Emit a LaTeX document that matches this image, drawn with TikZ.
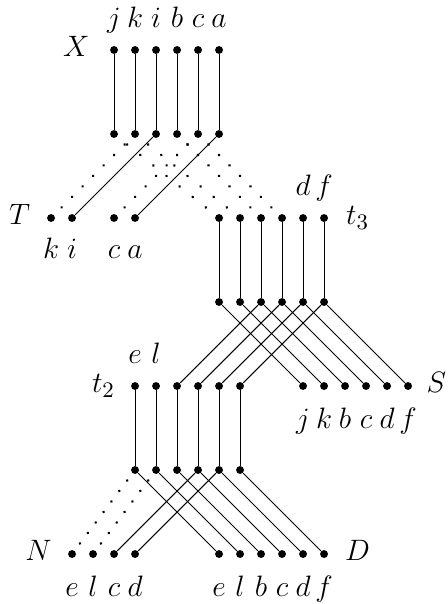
\documentclass[tikz,border=0pt]{standalone}
\usepackage{amsmath}
\usetikzlibrary{decorations.markings}

\begin{document}
\begin{tikzpicture}[x=.3cm,y=-.3cm,font=\fontsize{12.5}{15}\selectfont,
 pt/.style={circle,fill=black,inner sep=0pt,minimum size=3.2pt},
 str/.style={line width=.4pt},
 ghost/.style={decoration={markings,mark=between positions .125 and .9 step .125 with {\fill (0,0) circle (.6pt);}},decorate},
 lbl/.style={anchor=base,inner sep=0pt}]
\useasboundingbox (-.43,-2.38) rectangle (20.86,26.38);
% X: top box
\foreach \c/\l [count=\i] in {5/j,6/k,7/i,8/b,9/c,10/a}{
 \node[pt] (xt\i) at (\c,0) {};
 \node[lbl] (lx\i) at (\c,-1.05) {$\l$};
 \node[pt] (xb\i) at (\c,4) {};
 \draw[str] (xt\i) -- (xb\i);
}
\node[lbl] (lX) at (3.2,.33) {$X$};
% T
\node[pt] (tk) at (2,8) {};
\node[pt] (ti) at (3,8) {};
\node[pt] (tc) at (5,8) {};
\node[pt] (ta) at (6,8) {};
\node[lbl] (ltk) at (2,9.95) {$k$};
\node[lbl] (lti) at (3,9.95) {$i$};
\node[lbl] (ltc) at (5,9.95) {$c$};
\node[lbl] (lta) at (6,9.95) {$a$};
\node[lbl] (lT) at (.5,8.33) {$T$};
% t3
\foreach \c [count=\i] in {10,...,15}{
 \node[pt] (t3t\i) at (\c,8) {};
 \node[pt] (t3b\i) at (\c,12) {};
 \draw[str] (t3t\i) -- (t3b\i);
}
\node[lbl] (ld3) at (14,6.95) {$d$};
\node[lbl] (lf3) at (15,6.95) {$f$};
\node[lbl] (lt3) at (16.6,8.33) {$t_3$};
% S
\foreach \c/\l [count=\i] in {14/j,15/k,16/b,17/c,18/d,19/f}{
 \node[pt] (s\i) at (\c,16) {};
 \node[lbl] (ls\i) at (\c,18) {$\l$};
 \draw[str] (t3b\i) -- (s\i);
}
\node[lbl] (lS) at (20.35,16.33) {$S$};
% t2
\foreach \c [count=\i] in {6,...,11}{
 \node[pt] (t2t\i) at (\c,16) {};
 \node[pt] (t2b\i) at (\c,20) {};
 \draw[str] (t2t\i) -- (t2b\i);
}
\node[lbl] (le2) at (6,14.95) {$e$};
\node[lbl] (ll2) at (7,14.95) {$l$};
\node[lbl] (lt2) at (4.5,16.33) {$t_2$};
\draw[str] (t3b3) -- (t2t3);
\draw[str] (t3b4) -- (t2t4);
\draw[str] (t3b5) -- (t2t5);
\draw[str] (t3b6) -- (t2t6);
% N and D
\foreach \c/\l [count=\i] in {3/e,4/l,5/c,6/d}{
 \node[pt] (n\i) at (\c,24) {};
 \node[lbl] (ln\i) at (\c,26) {$\l$};
}
\foreach \c/\l [count=\i] in {10/e,11/l,12/b,13/c,14/d,15/f}{
 \node[pt] (d\i) at (\c,24) {};
 \node[lbl] (ld\i) at (\c,26) {$\l$};
 \draw[str] (t2b\i) -- (d\i);
}
\node[lbl] (lN) at (1.4,24.33) {$N$};
\node[lbl] (lD) at (16.6,24.33) {$D$};
\draw[str] (t2b4) -- (n3);
\draw[str] (t2b5) -- (n4);
% solid strands X -> T
\draw[str] (xb3) -- (ti);
\draw[str] (xb6) -- (ta);
% dotted strands
\path[ghost] (xb2.center) -- (tk.center);
\path[ghost] (xb5.center) -- (tc.center);
\path[ghost] (xb1.center) -- (t3t1.center);
\path[ghost] (xb2.center) -- (t3t2.center);
\path[ghost] (xb4.center) -- (t3t3.center);
\path[ghost] (xb5.center) -- (t3t4.center);
\path[ghost] (t2b1.center) -- (n1.center);
\path[ghost] (t2b2.center) -- (n2.center);
\end{tikzpicture}
\end{document}
